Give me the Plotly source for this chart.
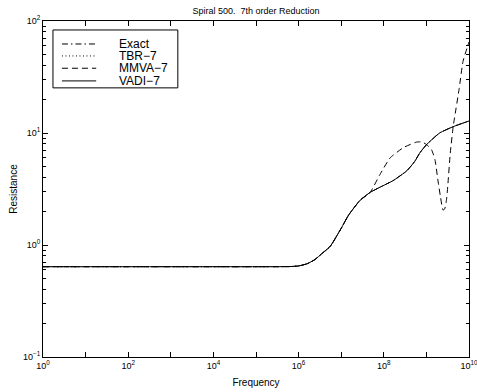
import plotly.graph_objects as go

# ---- data ----
freq_log = [0, 1, 2, 3, 4, 5, 5.8, 6.0, 6.2, 6.38, 6.55, 6.74, 7.0, 7.17, 7.44, 7.68,
            7.91, 8.22, 8.54, 8.73, 8.84, 9.0, 9.31, 9.63, 10.0]
exact_R = [0.64, 0.64, 0.64, 0.64, 0.64, 0.64, 0.642, 0.65, 0.68, 0.74, 0.84, 0.97, 1.41, 1.84, 2.5, 2.95,
           3.28, 3.76, 4.6, 5.6, 6.6, 7.85, 10.0, 11.4, 12.8]
tbr_R = exact_R
vadi_R = exact_R

mmva_log = [0, 1, 2, 3, 4, 5, 5.8, 6.0, 6.2, 6.38, 6.55, 6.74, 7.0, 7.17, 7.44, 7.68,
            7.9, 8.15, 8.46, 8.77, 8.9, 9.0, 9.12, 9.2, 9.27, 9.33, 9.39, 9.43, 9.47, 9.5,
            9.56, 9.63, 9.66, 9.77, 9.86, 10.0]
mmva_R = [0.64, 0.64, 0.64, 0.64, 0.64, 0.64, 0.642, 0.65, 0.68, 0.74, 0.84, 0.97, 1.41, 1.84, 2.5, 2.95,
          4.2, 6.0, 7.4, 8.3, 8.3, 7.9, 7.1, 5.8, 3.8, 2.7, 2.05, 2.1, 2.5, 3.3,
          6.6, 11.5, 13.6, 25.0, 43.6, 65.0]

series_names = ["Exact", "TBR\u22127", "MMVA\u22127", "VADI\u22127"]
series_dash = ["6px,3px,1.5px,3px", "1px,2.5px", "6px,4px", "solid"]

x_tick_vals = [10 ** k for k in range(0, 11)]
x_tick_text = ["10<sup>%d</sup>" % k if k % 2 == 0 else "" for k in range(0, 11)]
y_tick_vals = [0.1, 1, 10, 100]
y_tick_text = ["10<sup>\u22121</sup>", "10<sup>0</sup>", "10<sup>1</sup>", "10<sup>2</sup>"]

freq = [10 ** v for v in freq_log]
mmva_f = [10 ** v for v in mmva_log]

fig = go.Figure()
series = [(freq, exact_R), (freq, tbr_R), (mmva_f, mmva_R), (freq, vadi_R)]
for (xs, ys), name, dash in zip(series, series_names, series_dash):
    fig.add_trace(go.Scatter(x=xs, y=ys, mode="lines", name=name, showlegend=False,
                             line=dict(color="black", width=1, dash=dash,
                                       shape="spline", smoothing=0.5)))

# ---- legend drawn as a framed box (paper coords = plot area) ----
shapes = [dict(type="rect", xref="paper", yref="paper", x0=0.0234, x1=0.3165, y0=0.801, y1=0.9733,
               line=dict(color="black", width=1), fillcolor="white", layer="above")]
annotations = []
row_y = [0.9316, 0.8960, 0.8594, 0.8217]
for name, dash, yy in zip(series_names, series_dash, row_y):
    shapes.append(dict(type="line", xref="paper", yref="paper", x0=0.0445, x1=0.1249, y0=yy, y1=yy,
                       line=dict(color="black", width=1, dash=dash), layer="above"))
    annotations.append(dict(text=name, xref="paper", yref="paper", x=0.1765, y=yy,
                            xanchor="left", yanchor="middle", showarrow=False, borderpad=0,
                            font=dict(size=12, color="black")))

axis_common = dict(showgrid=False, zeroline=False, showline=True, linecolor="black",
                   linewidth=1, mirror="ticks", ticks="inside", tickcolor="black",
                   automargin=False, ticklabeloverflow="allow",
                   tickfont=dict(size=9, color="black"))

W, H = 477, 392
fig.update_layout(
    width=W, height=H,
    margin=dict(l=43, r=8, t=21, b=35),
    paper_bgcolor="white", plot_bgcolor="white",
    font=dict(family="Liberation Sans, Arial, sans-serif", color="black", size=10),
    title=dict(text="Spiral 500.  7th order Reduction", x=256 / W, xanchor="center",
               y=1 - 11 / H, yanchor="middle", font=dict(size=9)),
    shapes=shapes, annotations=annotations,
    xaxis=dict(type="log", range=[-1e-4, 10 + 1e-4], tickvals=x_tick_vals, ticktext=x_tick_text,
               ticklen=5,
               title=dict(text="Frequency", font=dict(size=10), standoff=9), **axis_common),
    yaxis=dict(type="log", range=[-1 - 1e-4, 2 + 1e-4], tickvals=y_tick_vals, ticktext=y_tick_text,
               ticklen=5,
               minor=dict(ticks="inside", ticklen=3, tickcolor="black", dtick="D1", showgrid=False),
               title=dict(text="Resistance", font=dict(size=10), standoff=3), **axis_common),
)

# remove the browser's default 8 px page margin so the figure fills the window
fig.write_html("out.html", config={"displayModeBar": False},
               post_script="document.body.style.margin='0';")
